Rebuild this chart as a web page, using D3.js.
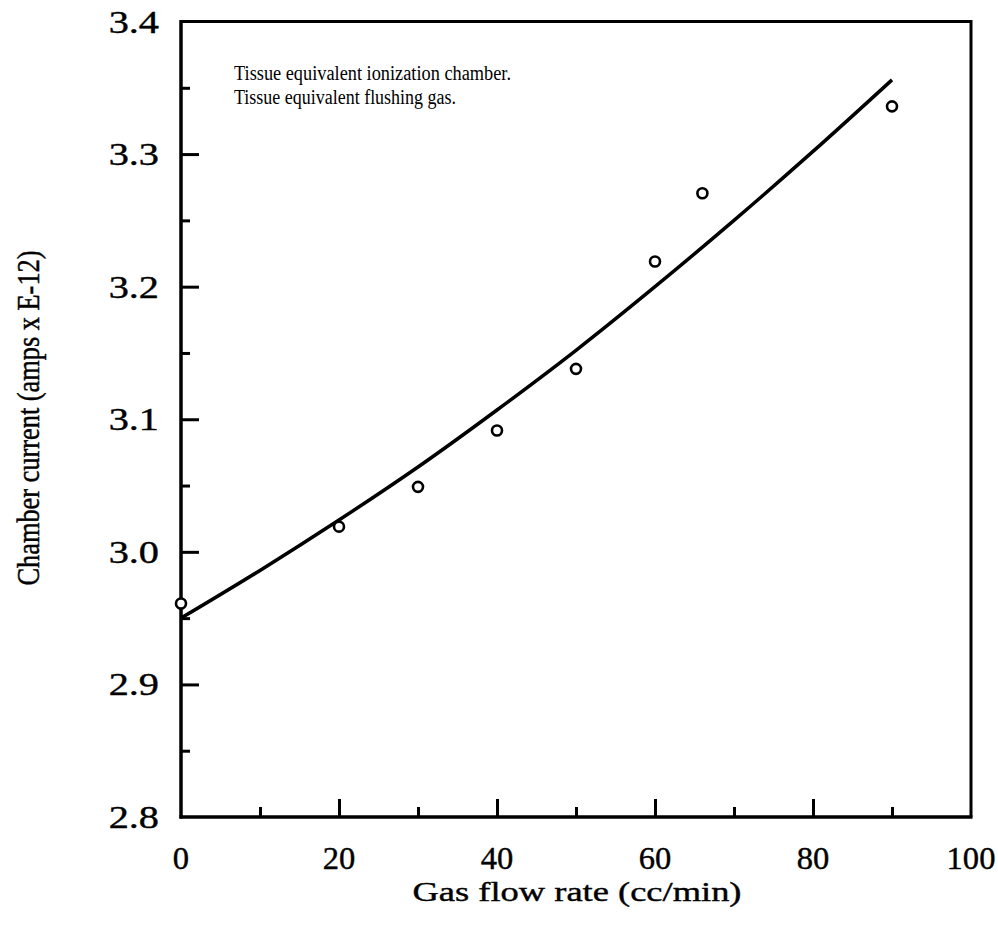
<!DOCTYPE html>
<html>
<head>
<meta charset="utf-8">
<script src="https://cdn.jsdelivr.net/npm/d3@7"></script>
<style>
  html, body { margin: 0; padding: 0; background: #fff; }
  svg { display: block; }
  text { font-family: "Liberation Serif", "Times New Roman", serif; fill: #000; }
  .heavy { stroke: #000; stroke-width: 0.4px; }
</style>
</head>
<body>
<svg id="chart" width="998" height="932"></svg>
<script>
// Measured chamber current vs. flushing-gas flow rate
const flowRates = [0, 20, 30, 40, 50, 60, 66, 90];
const currents  = [2.961, 3.019, 3.049, 3.0915, 3.138, 3.219, 3.2705, 3.336];

// Fitted trend line, read at regular flow rates
const fitFlow    = [0, 10, 20, 30, 40, 50, 60, 70, 80, 90];
const fitCurrent = [2.950, 2.986, 3.024, 3.064, 3.107, 3.152, 3.200, 3.250, 3.302, 3.356];

const xTickLabels = [0, 20, 40, 60, 80, 100];
const xMinorTicks = [10, 30, 50, 70, 90];
const yTickLabels = [2.8, 2.9, 3.0, 3.1, 3.2, 3.3, 3.4];
const yMinorTicks = [2.85, 2.95, 3.05, 3.15, 3.25, 3.35];

const noteLines = [
  "Tissue equivalent ionization chamber.",
  "Tissue equivalent flushing gas."
];
const xTitle = "Gas flow rate (cc/min)";
const yTitle = "Chamber current (amps x E-12)";

const svg = d3.select("#chart");
const plot = { left: 181, right: 971, top: 21.5, bottom: 817 };

const x = d3.scaleLinear().domain([0, 100]).range([plot.left, plot.right]);
const y = d3.scaleLinear().domain([2.8, 3.4]).range([plot.bottom, plot.top]);

// Inward ticks on the left and bottom axes
function inwardTicks(axis, values, size, transform) {
  svg.append("g").attr("transform", transform)
    .call(axis.tickValues(values).tickSize(size).tickFormat(""))
    .call(s => s.select(".domain").remove())
    .call(s => s.selectAll("line").attr("stroke", "#000").attr("stroke-width", 3));
}
inwardTicks(d3.axisTop(x), xTickLabels.slice(1, -1), 18, `translate(0,${plot.bottom})`);
inwardTicks(d3.axisTop(x), xMinorTicks, 10, `translate(0,${plot.bottom})`);
inwardTicks(d3.axisRight(y), yTickLabels.slice(1, -1), 18, `translate(${plot.left},0)`);
inwardTicks(d3.axisRight(y), yMinorTicks, 9, `translate(${plot.left},0)`);

// Frame
const frame = svg.append("g").attr("stroke", "#000");
frame.append("line").attr("x1", plot.left).attr("x2", plot.right)
  .attr("y1", plot.top).attr("y2", plot.top).attr("stroke-width", 3);
frame.append("line").attr("x1", plot.right).attr("x2", plot.right)
  .attr("y1", plot.top - 1.5).attr("y2", plot.bottom).attr("stroke-width", 3);
frame.append("line").attr("x1", plot.left).attr("x2", plot.left)
  .attr("y1", plot.top - 1.5).attr("y2", plot.bottom + 1.5).attr("stroke-width", 3.5);
frame.append("line").attr("x1", plot.left - 1.5).attr("x2", plot.right + 1.5)
  .attr("y1", plot.bottom).attr("y2", plot.bottom).attr("stroke-width", 3.5);

// Tick labels
svg.append("g").attr("class", "heavy").selectAll("text").data(xTickLabels).join("text")
  .attr("transform", d => `translate(${x(d)},869) scale(1.05,1)`)
  .attr("text-anchor", "middle").attr("font-size", 31)
  .text(d => d);
svg.append("g").attr("class", "heavy").selectAll("text").data(yTickLabels).join("text")
  .attr("transform", d => `translate(159,${y(d) + 11}) scale(1.3,1)`)
  .attr("text-anchor", "end").attr("font-size", 31)
  .text(d => d3.format(".1f")(d));

// Axis titles
svg.append("text").attr("class", "heavy").attr("x", 577).attr("y", 901)
  .attr("text-anchor", "middle").attr("font-size", 28)
  .attr("textLength", 329).attr("lengthAdjust", "spacingAndGlyphs").text(xTitle);
svg.append("text").attr("class", "heavy").attr("transform", `translate(39,418) scale(1.15,1) rotate(-90)`)
  .attr("text-anchor", "middle").attr("font-size", 27)
  .attr("textLength", 335).attr("lengthAdjust", "spacingAndGlyphs").text(yTitle);

// Annotation
svg.append("g").selectAll("text").data(noteLines).join("text")
  .attr("x", 234).attr("y", (d, i) => 80 + i * 24)
  .attr("font-size", 20)
  .attr("textLength", (d, i) => i === 0 ? 277 : 222)
  .attr("lengthAdjust", "spacingAndGlyphs")
  .text(d => d);

// Trend line
const line = d3.line().x((d, i) => x(fitFlow[i])).y(d => y(d)).curve(d3.curveMonotoneX);
svg.append("path").datum(fitCurrent).attr("d", line)
  .attr("fill", "none").attr("stroke", "#000").attr("stroke-width", 3.5);

// Data points
svg.append("g").selectAll("circle").data(currents).join("circle")
  .attr("cx", (d, i) => x(flowRates[i])).attr("cy", d => y(d)).attr("r", 5)
  .attr("fill", "#fff").attr("stroke", "#000").attr("stroke-width", 2.6);
</script>
</body>
</html>
